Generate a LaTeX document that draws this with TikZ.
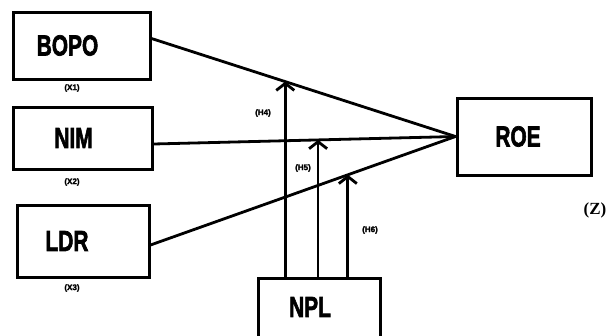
\documentclass[tikz,border=0pt]{standalone}
\usepackage{fontspec}
\setmainfont{Liberation Serif}
\newfontfamily\boxfont{Liberation Sans}[BoldFeatures={FakeBold=2.5}]
\usetikzlibrary{calc,arrows.meta}

\newcommand{\narrow}[1]{\scalebox{0.72}[1]{#1}}

\tikzset{
  var/.style={draw, line width=3pt, font=\boxfont\bfseries\fontsize{29}{29}\selectfont},
  tag/.style={font=\boxfont\bfseries\fontsize{8}{8}\selectfont, inner sep=0pt},
  link/.style={line width=2.8pt},
  hyp/.style={line width=2.8pt, -{Straight Barb[length=7pt,width=18pt]}}
}

\begin{document}
\begin{tikzpicture}[x=1pt,y=-1pt]

  \useasboundingbox (0,0) rectangle (609,335);

  % boxes
  \node[var, minimum width=137pt, minimum height=67pt] (bopo) at (81.5,45.5) {\narrow{BOPO}\hspace*{28pt}};
  \node[var, minimum width=139pt, minimum height=62pt] (nim) at (82.5,138) {\narrow{NIM}\hspace*{18pt}};
  \node[var, minimum width=132pt, minimum height=72pt] (ldr) at (83,241) {\narrow{LDR}\hspace*{32pt}};
  \node[var, minimum width=134pt, minimum height=77pt] (roe) at (524,136.5) {\narrow{ROE}\hspace*{12pt}};
  \node[var, minimum width=122pt, minimum height=80pt] (npl) at (319,318) {\raisebox{22pt}{\narrow{NPL}}\hspace*{18pt}};

  % variable tags
  \node[tag] (x1) at (72,88) {(X1)};
  \node[tag] (x2) at (72,182) {(X2)};
  \node[tag] (x3) at (72,288) {(X3)};
  \node[font=\bfseries\fontsize{17}{17}\selectfont, inner sep=0pt] (z) at (595,210) {(Z)};

  % direct effects
  \coordinate (b1) at ([yshift=7pt]bopo.east);
  \coordinate (b2) at ([yshift=-6pt]nim.east);
  \coordinate (b3) at ([yshift=-4pt]ldr.east);
  \draw[link] (b1) -- (roe.west);
  \draw[link] (b2) -- (roe.west);
  \draw[link] (b3) -- (roe.west);

  % moderation
  \coordinate (h4) at ($(b1)!0.44!(roe.west)$);
  \coordinate (h5) at ($(b2)!0.545!(roe.west)$);
  \coordinate (h6) at ($(b3)!0.647!(roe.west)$);
  \draw[hyp] (npl.north -| h4) -- (h4);
  \draw[hyp] (npl.north -| h5) -- (h5);
  \draw[hyp] (npl.north -| h6) -- (h6);

  \node[tag] (l4) at (263,113) {(H4)};
  \node[tag] (l5) at (303,168) {(H5)};
  \node[tag] (l6) at (370,230) {(H6)};

\end{tikzpicture}
\end{document}
